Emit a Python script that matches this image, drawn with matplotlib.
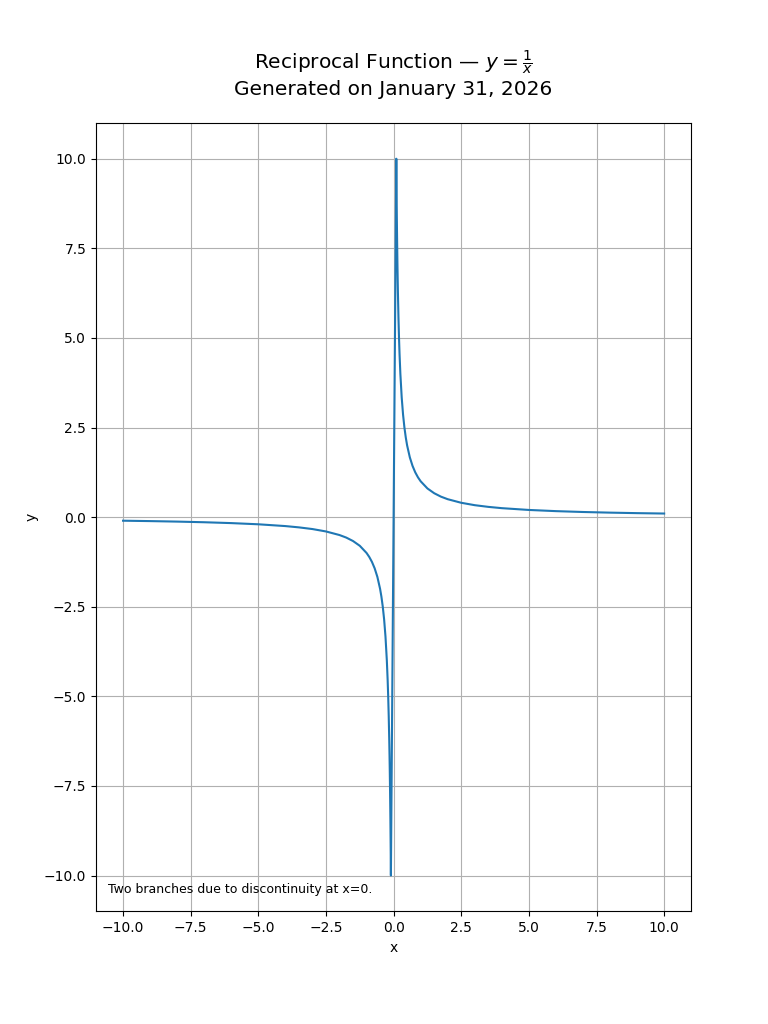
import matplotlib
matplotlib.use("Agg")
import matplotlib.pyplot as plt

x_vals = [-10, -9, -8, -7, -6, -5, -4, -3.5, -3, -2.5, -2, -1.75, -1.5, -1.25, -1, -0.9, -0.8, -0.7, -0.6,
          -0.5, -0.45, -0.4, -0.35, -0.3, -0.25, -0.22, -0.2, -0.18, -0.16, -0.15, -0.14, -0.13, -0.125,
          -0.12, -0.11, -0.105, -0.1,
          0.1, 0.105, 0.11, 0.12, 0.125, 0.13, 0.14, 0.15, 0.16, 0.18, 0.2, 0.22, 0.25, 0.3, 0.35, 0.4,
          0.45, 0.5, 0.6, 0.7, 0.8, 0.9, 1, 1.25, 1.5, 1.75, 2, 2.5, 3, 3.5, 4, 5, 6, 7, 8, 9, 10]
y_vals = [-0.1, -0.111, -0.125, -0.143, -0.167, -0.2, -0.25, -0.286, -0.333, -0.4, -0.5, -0.571, -0.667,
          -0.8, -1.0, -1.111, -1.25, -1.429, -1.667, -2.0, -2.222, -2.5, -2.857, -3.333, -4.0, -4.545,
          -5.0, -5.556, -6.25, -6.667, -7.143, -7.692, -8.0, -8.333, -9.091, -9.524, -10.0,
          10.0, 9.524, 9.091, 8.333, 8.0, 7.692, 7.143, 6.667, 6.25, 5.556, 5.0, 4.545, 4.0, 3.333,
          2.857, 2.5, 2.222, 2.0, 1.667, 1.429, 1.25, 1.111, 1.0, 0.8, 0.667, 0.571, 0.5, 0.4, 0.333,
          0.286, 0.25, 0.2, 0.167, 0.143, 0.125, 0.111, 0.1]

title_text = "Reciprocal Function — $y = \\frac{1}{x}$\nGenerated on January 31, 2026"
note_text = "Two branches due to discontinuity at x=0."

fig, ax = plt.subplots(figsize=(7.68, 10.24), dpi=100)
ax.plot(x_vals, y_vals, color="#1f77b4", linewidth=1.5)
ax.set_title(title_text, fontsize=14.5, pad=20)
ax.set_xlabel("x")
ax.set_ylabel("y")
ax.grid(True)
ax.text(0.02, 0.02, note_text, transform=ax.transAxes, fontsize=9, va="bottom", ha="left")
fig.savefig("out.png", dpi=100)
